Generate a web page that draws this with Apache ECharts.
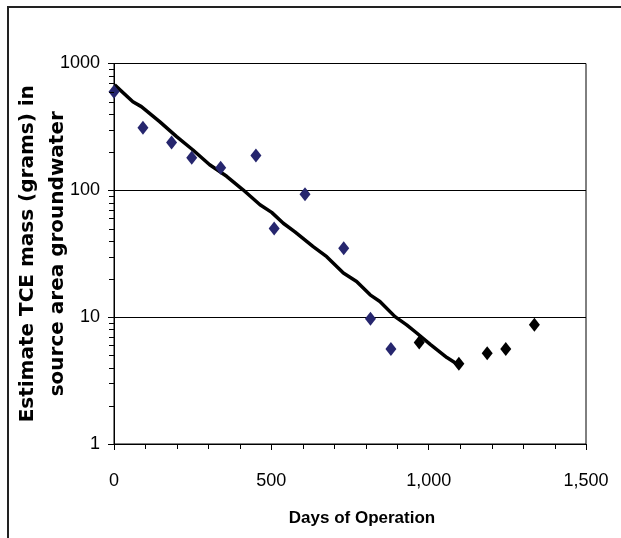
<!DOCTYPE html>
<html>
<head>
<meta charset="utf-8">
<script src="https://cdn.jsdelivr.net/npm/echarts@6/dist/echarts.min.js"></script>
<style>
  html, body { margin: 0; padding: 0; background: #fff; }
  #main { width: 621px; height: 538px; }
</style>
</head>
<body>
<div id="main"></div>
<script>
// measured points (navy), later points (black)
var earlyDays = [0, 92, 183, 247, 339, 451, 509, 607, 730, 815, 880];
var earlyMass = [600, 312, 238, 181, 151, 188, 50, 93, 35, 9.7, 5.6];
var lateDays = [970, 1096, 1186, 1245, 1336];
var lateMass = [6.3, 4.3, 5.2, 5.6, 8.7];
// trend line
var trendDays = [2, 60, 87, 145, 199, 251, 304, 358, 410, 464, 501, 538, 575, 633, 676, 729, 771, 814, 845, 893, 930, 962, 1005, 1058, 1095];
var trendMass = [678, 500, 457, 348, 265, 208, 159, 129, 101, 77, 67, 55, 47, 36, 30, 22.3, 19.1, 15.0, 13.3, 10.1, 8.7, 7.5, 6.1, 4.8, 4.2];
var yMinorTicks = [2, 3, 4, 5, 6, 7, 8, 9, 20, 30, 40, 50, 60, 70, 80, 90, 200, 300, 400, 500, 600, 700, 800, 900];
var xMinorTicks = [100, 200, 300, 400, 600, 700, 800, 900, 1100, 1200, 1300, 1400];

function pairs(xs, ys) {
    var out = [];
    for (var i = 0; i < xs.length; i++) out.push([xs[i], ys[i]]);
    return out;
}

var numFont = "'Liberation Sans', Arial, sans-serif";

var myChart = echarts.init(document.getElementById('main'));
var option = {
    animation: false,
    backgroundColor: '#fff',
    grid: {
        left: 114, right: 35, top: 63.5, bottom: 94,
        outerBoundsMode: 'none',
        containLabel: false,
        show: true, borderColor: '#000', borderWidth: 1, backgroundColor: 'transparent'
    },
    graphic: [{
        type: 'polyline',
        shape: { points: [[8, 538], [8, 7], [621, 7]] },
        style: { stroke: '#222', lineWidth: 2, fill: null },
        silent: true
    }],
    xAxis: {
        type: 'value',
        min: 0, max: 1500, interval: 500,
        name: 'Days of Operation',
        nameLocation: 'middle',
        nameGap: 66,
        nameMoveOverlap: false,
        nameTextStyle: { fontFamily: numFont, fontWeight: 'bold', fontSize: 17, color: '#000', padding: [0, 0, 0, 24] },
        axisLine: { lineStyle: { color: '#000', width: 1 } },
        axisTick: { show: true, length: 6, lineStyle: { color: '#000' } },
        axisLabel: {
            margin: 28, fontFamily: numFont, fontSize: 18, color: '#000',
            formatter: function (v) { return String(v).replace(/\B(?=(\d{3})+$)/g, ','); }
        },
        splitLine: { show: false }
    },
    yAxis: {
        type: 'log',
        logBase: 10,
        min: 1, max: 1000,
        name: 'Estimate TCE mass (grams) in\nsource area groundwater',
        nameLocation: 'middle',
        nameRotate: 90,
        nameGap: 41,
        nameMoveOverlap: false,
        nameTextStyle: { fontFamily: "'DejaVu Sans', sans-serif", fontWeight: 'bold', fontSize: 20, lineHeight: 30, color: '#000' },
        axisLine: { show: true, lineStyle: { color: '#000', width: 1 } },
        axisTick: { show: true, length: 6, lineStyle: { color: '#000' } },
        axisLabel: {
            margin: 14, fontFamily: numFont, fontSize: 18, color: '#000',
            formatter: function (v) { return String(Math.round(v)); }
        },
        splitLine: { show: true, lineStyle: { color: '#000', width: 1 } }
    },
    series: [
        {
            name: 'yMinor',
            type: 'custom',
            silent: true,
            clip: false,
            data: yMinorTicks.map(function (v) { return [0, v]; }),
            renderItem: function (params, api) {
                var p = api.coord([api.value(0), api.value(1)]);
                var y = Math.round(p[1]) + 0.5;
                return {
                    type: 'line',
                    shape: { x1: p[0] - 5, y1: y, x2: p[0], y2: y },
                    style: { stroke: '#000', lineWidth: 1 }
                };
            },
            z: 5
        },
        {
            name: 'xMinor',
            type: 'custom',
            silent: true,
            clip: false,
            data: xMinorTicks.map(function (v) { return [v, 1]; }),
            renderItem: function (params, api) {
                var p = api.coord([api.value(0), api.value(1)]);
                var x = Math.round(p[0]) + 0.5;
                return {
                    type: 'line',
                    shape: { x1: x, y1: p[1], x2: x, y2: p[1] + 5 },
                    style: { stroke: '#000', lineWidth: 1 }
                };
            },
            z: 5
        },
        {
            name: 'trend',
            type: 'line',
            data: pairs(trendDays, trendMass),
            showSymbol: false,
            smooth: false,
            lineStyle: { color: '#000', width: 3.5 },
            z: 3
        },
        {
            name: 'early',
            type: 'scatter',
            symbol: 'diamond',
            symbolSize: [11, 14],
            data: pairs(earlyDays, earlyMass),
            itemStyle: { color: '#26266e', opacity: 1 },
            z: 4
        },
        {
            name: 'late',
            type: 'scatter',
            symbol: 'diamond',
            symbolSize: [11, 14],
            data: pairs(lateDays, lateMass),
            itemStyle: { color: '#000', opacity: 1 },
            z: 4
        }
    ]
};
myChart.setOption(option);
</script>
</body>
</html>
